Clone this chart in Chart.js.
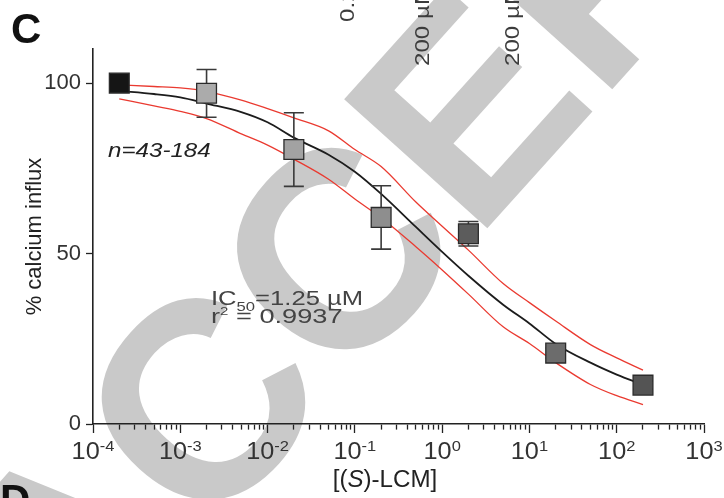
<!DOCTYPE html>
<html><head><meta charset="utf-8">
<script src="https://cdn.jsdelivr.net/npm/chart.js@4/dist/chart.umd.min.js"></script>
<style>html,body{margin:0;padding:0;background:#fff;}#wrap{width:724px;height:498px;}</style>
</head><body><div id="wrap"><canvas id="c" width="724" height="498"></canvas></div>
<script>
// ---- data ----
const concentrations = [0.0002, 0.002, 0.02, 0.2, 2, 20, 200];   // [(S)-LCM], µM
const influxMean = [100, 97, 80.5, 60.6, 55.8, 20.8, 11.4];     // % calcium influx
const influxErr  = [0, 7, 10.8, 9.3, 3.6, 1.5, 1.2];
const pointColors = ['#151515', '#ababab', '#a2a2a2', '#8e8e8e', '#5c5c5c', '#6c6c6c', '#545454'];
const fitX    = [0.0002,0.0005,0.001,0.002,0.005,0.01,0.02,0.05,0.1,0.2,0.5,1,2,5,10,20,50,100,200];
const fitY    = [97.7,96.8,95.8,94.0,91.5,88.5,84.0,79.0,74.0,67.5,57.8,50.5,43.5,35.0,29.5,23.5,18.0,14.5,11.5];
const ciUpper = [99.5,99.0,98.6,97.6,95.0,92.5,89.8,86.0,80.5,75.5,65.1,58.0,51.0,41.2,35.6,30.2,23.3,19.4,15.8];
const ciLower = [95.4,93.3,91.7,89.6,85.1,81.8,77.7,71.8,66.0,60.5,52.0,45.2,38.1,28.5,23.6,18.0,11.6,8.3,5.7];
const xDecades = [-4, -3, -2, -1, 0, 1, 2, 3];
const yTicks = [0, 50, 100];
const xTitleParts = [['[(', false], ['S', true], [')-LCM]', false]];

const FONT = '"Liberation Sans", Arial, sans-serif';
const pts = (xs, ys) => xs.map((x, i) => ({x, y: ys[i]}));

function isDecade(v) { const l = Math.log10(v); return Math.abs(l - Math.round(l)) < 1e-9; }

const bgPlugin = {
  id: 'bg',
  beforeDraw(chart) {
    const ctx = chart.ctx;
    ctx.save();
    ctx.fillStyle = '#fff';
    ctx.fillRect(0, 0, chart.width, chart.height);
    // watermark
    ctx.translate(69, 693);
    ctx.rotate(-0.838);
    ctx.font = 'bold 280px ' + FONT;
    ctx.fillStyle = '#c9c9c9';
    ctx.textBaseline = 'alphabetic';
    ctx.fillText('ACCEPTED MANUSCRIPT', 0, 0);
    ctx.restore();
  }
};

const errorBarPlugin = {
  id: 'errorBars',
  beforeDatasetDraw(chart, args) {
    if (args.index !== 0) return;
    const ctx = chart.ctx, xs = chart.scales.x, ys = chart.scales.y;
    ctx.save();
    ctx.strokeStyle = '#3a3a3a';
    ctx.lineWidth = 1.6;
    concentrations.forEach((c, i) => {
      if (!influxErr[i]) return;
      const px = xs.getPixelForValue(c);
      const top = ys.getPixelForValue(influxMean[i] + influxErr[i]);
      const bot = ys.getPixelForValue(influxMean[i] - influxErr[i]);
      ctx.beginPath();
      ctx.moveTo(px, top); ctx.lineTo(px, bot);
      ctx.moveTo(px - 10, top); ctx.lineTo(px + 10, top);
      ctx.moveTo(px - 10, bot); ctx.lineTo(px + 10, bot);
      ctx.stroke();
    });
    ctx.restore();
  }
};

function stretchedText(ctx, parts, x, y, sx) {
  ctx.save();
  ctx.translate(x, y);
  ctx.scale(sx, 1);
  let cx = 0;
  parts.forEach(([t, f, dy]) => {
    ctx.font = f;
    ctx.fillText(t, cx, dy || 0);
    cx += ctx.measureText(t).width;
  });
  ctx.restore();
}

const textPlugin = {
  id: 'texts',
  afterDraw(chart) {
    const ctx = chart.ctx, xs = chart.scales.x;
    ctx.save();
    ctx.textBaseline = 'alphabetic';
    ctx.textAlign = 'left';
    ctx.fillStyle = '#333';
    const sx = 1.1;
    xDecades.forEach(d => {
      const px = xs.getPixelForValue(Math.pow(10, d));
      const base = '10', exp = (d < 0 ? '-' : '') + Math.abs(d);
      ctx.font = '23px ' + FONT; const w1 = ctx.measureText(base).width;
      ctx.font = '15px ' + FONT; const w2 = ctx.measureText(exp).width;
      const w = (w1 + w2) * sx;
      stretchedText(ctx, [[base, '23px ' + FONT, 0], [exp, '15px ' + FONT, -8]], px - w / 2, 459, sx);
    });
    ctx.fillStyle = '#222';
    let tw = 0;
    xTitleParts.forEach(([t, it]) => { ctx.font = (it ? 'italic ' : '') + '23px ' + FONT; tw += ctx.measureText(t).width; });
    const tsx = 1.05;
    stretchedText(ctx, xTitleParts.map(([t, it]) => [t, (it ? 'italic ' : '') + '23px ' + FONT, 0]), 385 - tw * tsx / 2, 487, tsx);
    ctx.fillStyle = '#111';
    ctx.font = 'bold 42px ' + FONT;
    ctx.fillText('C', 11, 43);
    ctx.fillText('D', 0, 514);
    ctx.fillStyle = '#222';
    stretchedText(ctx, [['n=43-184', 'italic 21px ' + FONT, 0]], 108, 157, 1.15);
    ctx.fillStyle = '#444';
    stretchedText(ctx, [['IC', '20px ' + FONT, 0], ['50', '13px ' + FONT, 6], ['=1.25 µM', '20px ' + FONT, 0]], 211, 305, 1.28);
    stretchedText(ctx, [['r', '20px ' + FONT, 0], ['2', '11px ' + FONT, -8], [' = 0.9937', '20px ' + FONT, 0]], 211, 323, 1.36);
    ctx.fillStyle = '#3c3c3c';
    ctx.font = '21px ' + FONT;
    [['0.2 µM', 354, 22], ['200 µM', 429, 66], ['200 µM', 519, 66]].forEach(([t, x, y]) => {
      ctx.save(); ctx.translate(x, y); ctx.rotate(-Math.PI / 2); ctx.scale(1.15, 1); ctx.fillText(t, 0, 0); ctx.restore();
    });
    ctx.restore();
  }
};

new Chart(document.getElementById('c'), {
  type: 'scatter',
  data: {
    datasets: [
      { label: 'mean', data: pts(concentrations, influxMean), pointStyle: 'rect', pointRadius: 14, pointHoverRadius: 14,
        backgroundColor: pointColors, borderColor: '#2b2b2b', borderWidth: 1.3, order: 0 },
      { type: 'line', label: 'fit', data: pts(fitX, fitY), borderColor: '#1c1c1c', borderWidth: 1.8, pointRadius: 0,
        cubicInterpolationMode: 'monotone', fill: false, order: 1 },
      { type: 'line', label: 'upper', data: pts(fitX, ciUpper), borderColor: '#ea3a30', borderWidth: 1.3, pointRadius: 0,
        cubicInterpolationMode: 'monotone', fill: false, order: 2 },
      { type: 'line', label: 'lower', data: pts(fitX, ciLower), borderColor: '#ea3a30', borderWidth: 1.3, pointRadius: 0,
        cubicInterpolationMode: 'monotone', fill: false, order: 2 }
    ]
  },
  options: {
    responsive: false, animation: false, devicePixelRatio: 1,
    layout: { padding: { top: 49, right: 20, left: 0, bottom: 0 } },
    plugins: { legend: { display: false }, tooltip: { enabled: false } },
    scales: {
      x: {
        type: 'logarithmic', position: 'bottom', min: 1e-4, max: 1e3,
        afterBuildTicks: s => {
          const t = [];
          for (let i = 0; i < xDecades.length - 1; i++)
            for (let m = 1; m <= 9; m++) t.push({ value: m * Math.pow(10, xDecades[i]) });
          t.push({ value: Math.pow(10, xDecades[xDecades.length - 1]) });
          s.ticks = t;
        },
        afterFit: s => { s.height = 74; },
        ticks: { display: false, autoSkip: false },
        grid: { display: true, drawOnChartArea: false, drawTicks: true, tickLength: 9, tickWidth: 1.3, tickColor: '#222',
                tickBorderDash: c => (c.tick && isDecade(c.tick.value)) ? [] : [5, 40] },
        border: { display: true, color: '#222', width: 1.6 }
      },
      y: {
        type: 'linear', min: 0, max: 110,
        afterBuildTicks: s => { s.ticks = yTicks.map(v => ({ value: v })); },
        afterFit: s => { s.width = 93; },
        ticks: { font: { family: FONT, size: 22 }, color: '#333', padding: 5 },
        grid: { display: true, drawOnChartArea: false, drawTicks: true, tickLength: 7, tickWidth: 1.3, tickColor: '#222' },
        border: { display: true, color: '#222', width: 1.6 },
        title: { display: true, text: '% calcium influx', font: { family: FONT, size: 22 }, color: '#222', padding: { top: 22, bottom: 0 } }
      }
    }
  },
  plugins: [bgPlugin, errorBarPlugin, textPlugin]
});
</script></body></html>
